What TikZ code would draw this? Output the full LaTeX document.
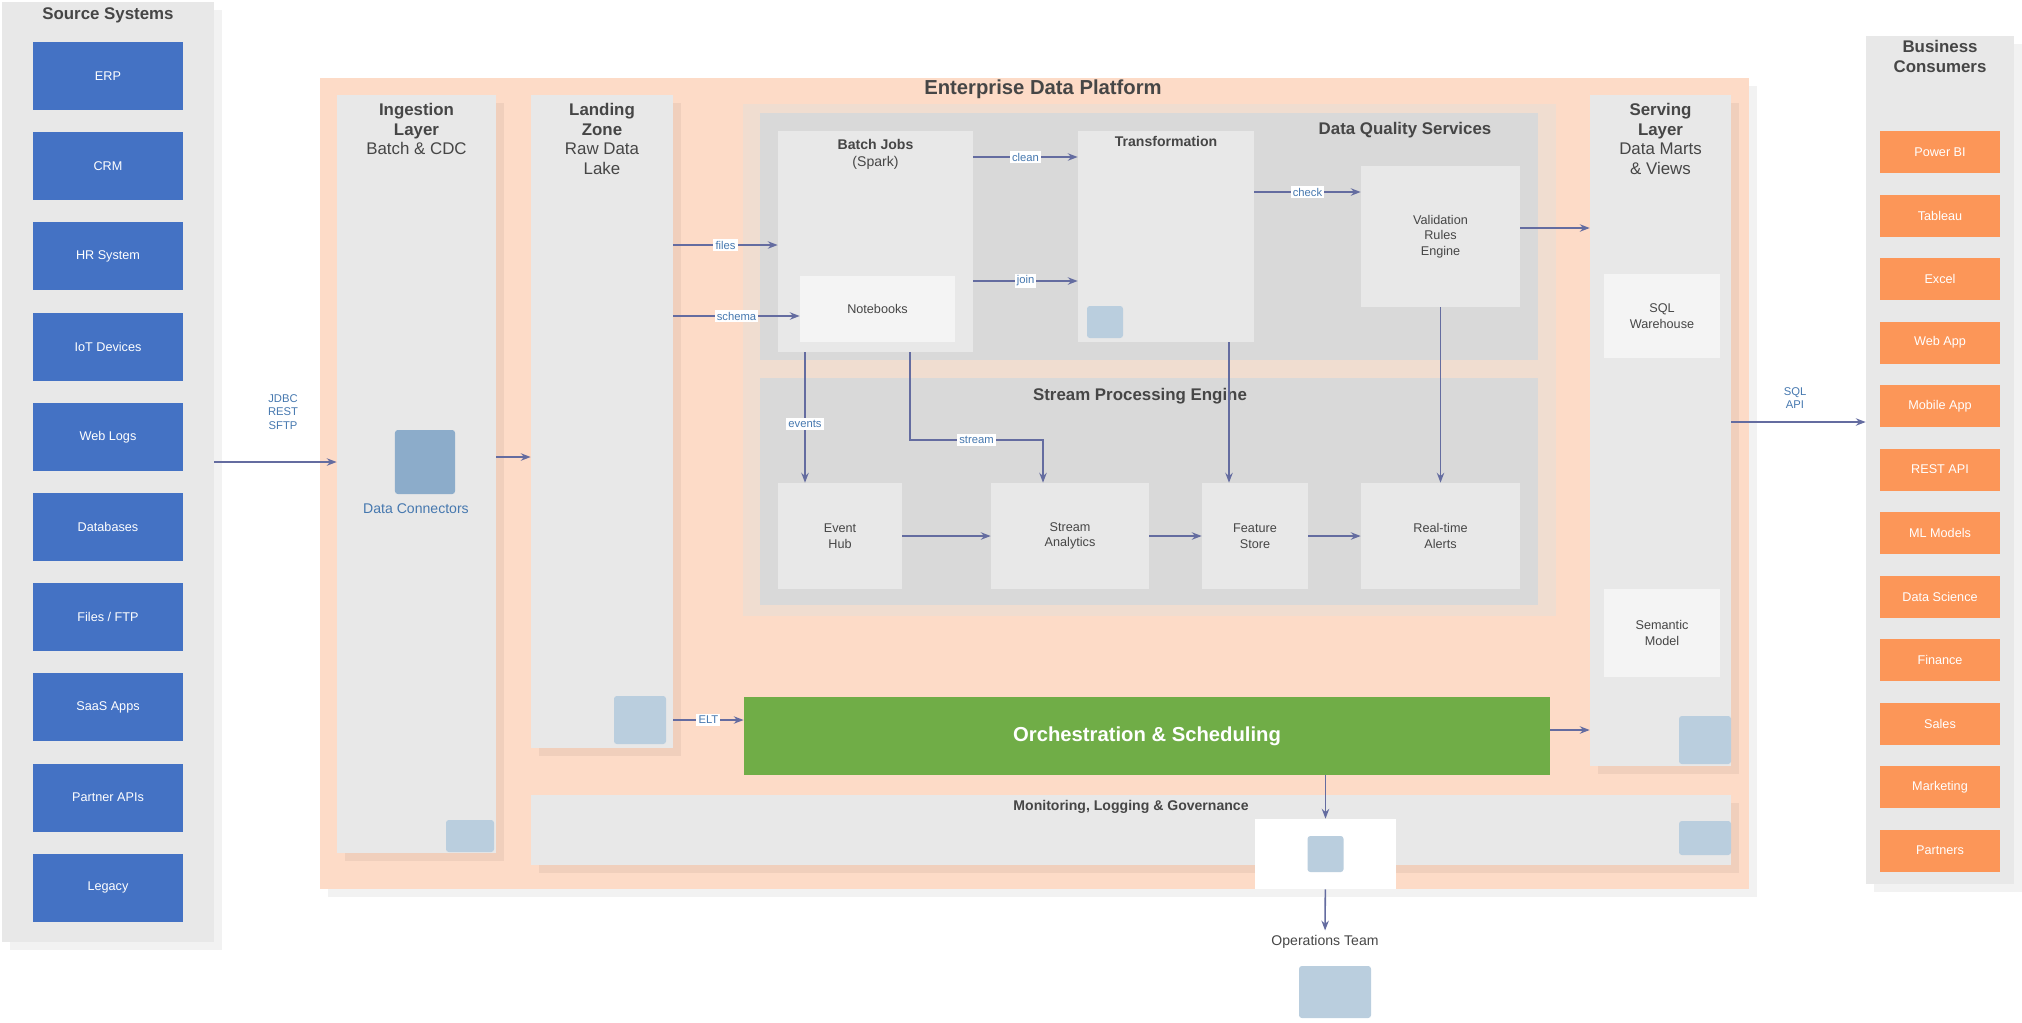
\documentclass[tikz,border=0pt]{standalone}
\usepackage{fontspec}
\setmainfont{Liberation Sans}
\usepackage{tikz}
\usetikzlibrary{arrows.meta, positioning, shadows}
\definecolor{panelgray}{RGB}{232,232,232}
\definecolor{groupgray}{RGB}{217,217,217}
\definecolor{cardwhite}{RGB}{244,244,244}
\definecolor{peach}{RGB}{253,219,199}
\definecolor{framepeach}{RGB}{240,221,208}
\definecolor{srcblue}{RGB}{68,114,196}
\definecolor{sinkorange}{RGB}{252,150,88}
\definecolor{flowgreen}{RGB}{112,173,71}
\definecolor{linkcol}{RGB}{100,108,160}
\definecolor{tagblue}{RGB}{70,120,175}
\definecolor{icongray}{RGB}{186,206,222}
\definecolor{icondark}{RGB}{140,172,202}
\definecolor{textgray}{RGB}{70,70,70}

\tikzset{softshadow/.style={drop shadow={shadow xshift=0.2cm, shadow yshift=-0.2cm,
                                           opacity=0.05, fill=black}}}

\begin{document}
\begin{tikzpicture}[x=0.025cm, y=-0.025cm,
    panel/.style={fill=panelgray, softshadow},
    container/.style={fill=peach, softshadow},
    frame/.style={fill=framepeach},
    group/.style={fill=groupgray},
    procbox/.style={fill=panelgray, font=\small, text=textgray, align=center},
    card/.style={fill=cardwhite, font=\small, text=textgray, align=center},
    srcbox/.style={fill=srcblue, minimum width=3.75cm, minimum height=1.7cm,
                   font=\small, text=white},
    sinkbox/.style={fill=sinkorange, minimum width=3cm, minimum height=1.05cm,
                    font=\small, text=white},
    orchbar/.style={fill=flowgreen, font=\Large\bfseries, text=white},
    paneltitle/.style={font=\large\bfseries, text=textgray, align=center, inner sep=1pt},
    coltitle/.style={font=\large, text=textgray, align=center, inner sep=1pt},
    grouptitle/.style={font=\large\bfseries, text=textgray, inner sep=1pt},
    icon/.style={fill=icongray, rounded corners=2pt},
    tag/.style={fill=white, font=\footnotesize, text=tagblue, inner sep=1.5pt, align=center},
    flow/.style={-{Stealth[length=7pt]}, line width=1.1pt, draw=linkcol}
]
    \useasboundingbox (0,0) rectangle (2022,1022);

    % Sources
    \node[panel, minimum width=5.3cm, minimum height=23.5cm] (srcpanel) at (108,472) {};
    \node[paneltitle, below=3pt of srcpanel.north] (srctitle) {Source Systems};
    \foreach \lbl [count=\i from 0] in {ERP, CRM, HR System, IoT Devices, Web Logs,
                                        Databases, Files / FTP, SaaS Apps, Partner APIs, Legacy}
        \node[srcbox] (src\i) at (108,{76+90.2*\i}) {\lbl};

    % Consumers
    \node[panel, minimum width=3.7cm, minimum height=21.2cm] (sinkpanel) at (1940,460) {};
    \node[paneltitle, below=2pt of sinkpanel.north] (sinktitle) {Business\\Consumers};
    \foreach \lbl [count=\i from 0] in {Power BI, Tableau, Excel, Web App, Mobile App, REST API,
                                        ML Models, Data Science, Finance, Sales, Marketing, Partners}
        \node[sinkbox] (sink\i) at (1940,{152+63.5*\i}) {\lbl};

    % Platform
    \node[container, minimum width=35.725cm, minimum height=20.275cm] (platform) at (1034.5,483.5) {};
    \node[font=\Large\bfseries, text=textgray] (platformtitle) at (1043,89) {Enterprise Data Platform};

    % Ingestion
    \node[panel, minimum width=3.975cm, minimum height=18.95cm] (ingest) at (416.5,474) {};
    \node[coltitle, below=5pt of ingest.north] (ingesttitle)
        {\textbf{Ingestion}\\\textbf{Layer}\\Batch \& CDC};
    \node[icon, fill=icondark, minimum width=1.5cm, minimum height=1.6cm] (ingesticon) at (425,462) {};
    \node[font=\normalsize, text=tagblue] (ingestnote) at (416,509) {Data Connectors};
    \node[icon, minimum width=1.2cm, minimum height=.8cm] (ingestlogo) at (470,836) {};

    % Landing
    \node[panel, minimum width=3.55cm, minimum height=16.325cm] (landing) at (602,421.5) {};
    \node[coltitle, below=5pt of landing.north] (landingtitle)
        {\textbf{Landing}\\\textbf{Zone}\\Raw Data\\Lake};
    \node[icon, minimum width=1.3cm, minimum height=1.2cm] (landinglogo) at (640,720) {};

    % Serving
    \node[panel, minimum width=3.525cm, minimum height=16.775cm] (serving) at (1660.5,430.5) {};
    \node[coltitle, below=5pt of serving.north] (servingtitle)
        {\textbf{Serving}\\\textbf{Layer}\\Data Marts\\\& Views};
    \node[card, minimum width=2.9cm, minimum height=2.1cm] (servcardone) at (1662,316) {SQL\\Warehouse};
    \node[card, minimum width=2.9cm, minimum height=2.2cm] (servcardtwo) at (1662,633) {Semantic\\Model};
    \node[icon, minimum width=1.3cm, minimum height=1.2cm] (servinglogo) at (1705,740) {};

    % Processing
    \node[frame, minimum width=20.325cm, minimum height=12.8cm] (procframe) at (1149.5,360) {};
    \node[group, minimum width=19.45cm, minimum height=6.175cm] (batchgrp) at (1149,236.5) {};
    \node[group, minimum width=19.45cm, minimum height=5.675cm] (streamgrp) at (1149,491.5) {};

    \node[procbox, minimum width=4.875cm, minimum height=5.525cm] (tone) at (875.5,241.5) {};
    \node[coltitle, font=\normalsize, below=5pt of tone.north] (tonetitle) {\textbf{Batch Jobs}\\(Spark)};
    \node[card, minimum width=3.875cm, minimum height=1.65cm] (tonecard) at (877.5,309) {Notebooks};
    \node[procbox, minimum width=4.4cm, minimum height=5.275cm] (ttwo) at (1166,236.5) {};
    \node[coltitle, font=\normalsize\bfseries, below=3pt of ttwo.north] (ttwotitle) {Transformation};
    \node[icon, minimum width=.9cm, minimum height=.8cm] (ttwoicon) at (1105,322) {};
    \node[grouptitle] (dqtitle) at (1405,130) {Data Quality Services};
    \node[procbox, minimum width=3.975cm, minimum height=3.525cm] (tthree) at (1440.5,236.5)
        {Validation\\Rules\\Engine};

    \node[grouptitle] (streamtitle) at (1140,396) {Stream Processing Engine};
    \node[procbox, minimum width=3.1cm, minimum height=2.65cm] (bone) at (840,536) {Event\\Hub};
    \node[procbox, minimum width=3.95cm, minimum height=2.65cm] (btwo) at (1070,536) {Stream\\Analytics};
    \node[procbox, minimum width=2.65cm, minimum height=2.65cm] (bthree) at (1255,536) {Feature\\Store};
    \node[procbox, minimum width=3.975cm, minimum height=2.65cm] (bfour) at (1440.5,536) {Real-time\\Alerts};

    % Orchestration and monitoring
    \node[orchbar, minimum width=20.15cm, minimum height=1.95cm] (orch) at (1147,736)
        {Orchestration \& Scheduling};
    \node[panel, minimum width=30cm, minimum height=1.75cm] (monitor) at (1131,830) {};
    \node[coltitle, font=\normalsize\bfseries, below=3pt of monitor.north] (monitortitle)
        {Monitoring, Logging \& Governance};
    \node[icon, minimum width=1.3cm, minimum height=.85cm] (monitorlogo) at (1705,838) {};
    \node[fill=white, minimum width=3.525cm, minimum height=1.75cm] (gw) at (1325.5,854) {};
    \node[icon, minimum width=.9cm, minimum height=.9cm] (gwicon) at (gw) {};
    \node[font=\normalsize, text=textgray] (ext) at (1325,942) {Operations Team};
    \node[icon, minimum width=1.8cm, minimum height=1.3cm] (opsicon) at (1335,992) {};

    % Connectors
    \draw[flow] (srcpanel.east |- 0,462) -- (ingest.west |- 0,462);
    \node[tag, fill=none] (srclink) at (283,412) {JDBC\\REST\\SFTP};
    \draw[flow] (ingest.east |- 0,457) -- (landing.west |- 0,457);
    \draw[flow] (landing.east |- 0,245) -- node[tag] (linkfiles) {files} (tone.west |- 0,245);
    \draw[flow] (landing.east |- 0,316) -- node[tag] (linkschema) {schema} (tonecard.west |- 0,316);
    \draw[flow] (landing.east |- 0,720) -- node[tag] (linkelt) {ELT} (orch.west |- 0,720);
    \draw[flow] (tone.east |- 0,157) -- node[tag] (linkclean) {clean} (ttwo.west |- 0,157);
    \draw[flow] (tone.east |- 0,281) -- node[tag] (linkjoin) {join} (ttwo.west |- 0,281);
    \draw[flow] (ttwo.east |- 0,192) -- node[tag] (linkcheck) {check} (tthree.west |- 0,192);
    \draw[flow] (tthree.east |- 0,228) -- (serving.west |- 0,228);
    \draw[flow] (tone.south -| 805,0) -- node[tag, pos=0.55] (linkevents) {events} (bone.north -| 805,0);
    \draw[flow] (tone.south -| 910,0) -- (910,440) -- node[tag] (linkstream) {stream} (1043,440)
        -- (btwo.north -| 1043,0);
    \draw[flow] (ttwo.south -| 1229,0) -- (bthree.north -| 1229,0);
    \draw[flow] (tthree) -- (bfour);
    \draw[flow] (bone) -- (btwo);
    \draw[flow] (btwo) -- (bthree);
    \draw[flow] (bthree) -- (bfour);
    \draw[flow] (orch.east |- 0,730) -- (serving.west |- 0,730);
    \draw[flow] (orch.south -| gw) -- (gw.north);
    \draw[flow] (gw) -- (ext);
    \draw[flow] (serving.east |- 0,422) -- (sinkpanel.west |- 0,422);
    \node[tag, fill=none] (sinklink) at (1795,398) {SQL\\API};
\end{tikzpicture}
\end{document}
